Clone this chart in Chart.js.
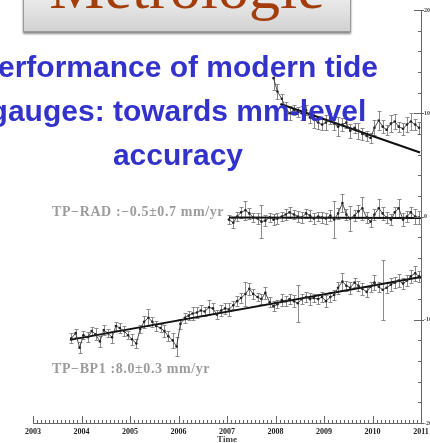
<!DOCTYPE html>
<html>
<head>
<meta charset="utf-8">
<script src="https://cdn.jsdelivr.net/npm/chart.js@4.4.1/dist/chart.umd.min.js"></script>
<style>
  html, body { margin: 0; padding: 0; background: #fff; overflow: hidden; width: 430px; height: 443px; }
  #chart { position: absolute; left: 0; top: 0; }
  .box {
    position: absolute; left: 23px; top: -12px; width: 326px; height: 42px;
    background: linear-gradient(#f2f2f2, #d2d2d2);
    border: 1px solid #9a9a9a; box-shadow: 0 2px 2px #8a8a8a;
    overflow: hidden;
  }
  .box span {
    position: absolute; left: 0; width: 100%; text-align: center; top: -33px;
    font-family: "Liberation Serif", serif; font-size: 62px; color: #a33d0c; line-height: 62px;
  }
  .title {
    position: absolute; left: -72px; width: 500px; top: 45px; text-align: center;
    font-family: "Liberation Sans", Arial, sans-serif; font-weight: bold; font-size: 30px;
    line-height: 44px; color: #3333cc; white-space: nowrap;
  }
  .lbl {
    position: absolute; left: 52px; font-family: "Liberation Serif", serif; font-weight: bold;
    font-size: 14px; letter-spacing: 0.6px; color: #9c9c9c; white-space: nowrap;
  }
</style>
</head>
<body>
<canvas id="chart" width="450" height="445"></canvas>
<div class="box"><span>Metrologie</span></div>
<div class="title">Performance of modern tide<br>gauges: towards mm-level<br>accuracy</div>
<div class="lbl" style="top:204px">TP−RAD :−0.5±0.7 mm/yr</div>
<div class="lbl" style="top:361px">TP−BP1 :8.0±0.3 mm/yr</div>
<script>
// monthly epochs (decimal years), Oct 2003 .. Dec 2010
const months = [
  2003.79, 2003.88, 2003.96,
  2004.04, 2004.13, 2004.21, 2004.29, 2004.38, 2004.46, 2004.54, 2004.63, 2004.71, 2004.79, 2004.88, 2004.96,
  2005.04, 2005.13, 2005.21, 2005.29, 2005.38, 2005.46, 2005.54, 2005.63, 2005.71, 2005.79, 2005.88, 2005.96,
  2006.04, 2006.13, 2006.21, 2006.29, 2006.38, 2006.46, 2006.54, 2006.63, 2006.71, 2006.79, 2006.88, 2006.96,
  2007.04, 2007.13, 2007.21, 2007.29, 2007.38, 2007.46, 2007.54, 2007.63, 2007.71, 2007.79, 2007.88, 2007.96,
  2008.04, 2008.13, 2008.21, 2008.29, 2008.38, 2008.46, 2008.54, 2008.63, 2008.71, 2008.79, 2008.88, 2008.96,
  2009.04, 2009.13, 2009.21, 2009.29, 2009.38, 2009.46, 2009.54, 2009.63, 2009.71, 2009.79, 2009.88, 2009.96,
  2010.04, 2010.13, 2010.21, 2010.29, 2010.38, 2010.46, 2010.54, 2010.63, 2010.71, 2010.79, 2010.88, 2010.96
];

// TP-BP1 (Oct 2003 ..)
const bp1 = [
  -11.8, -11.3, -12.7,
  -11.5, -11.7, -11.1, -11.4, -12.1, -11.0, -11.3, -11.7, -10.6, -10.8, -11.1, -11.5,
  -11.9, -12.3, -10.9, -10.2, -9.8, -10.2, -10.6, -10.8, -11.1, -11.6, -12.0, -12.6,
  -10.4, -9.8, -9.6, -9.4, -9.3, -9.1, -9.2, -8.8, -8.9, -9.5, -9.1, -8.9,
  -9.0, -8.6, -8.2, -7.9, -7.5, -7.0, -7.5, -7.8, -8.0, -7.4, -8.3, -8.7,
  -8.5, -8.1, -8.2, -8.0, -8.2, -8.4, -8.0, -7.8, -8.0, -7.9, -8.0, -7.8,
  -8.2, -7.8, -7.6, -6.9, -6.3, -6.7, -6.9, -6.4, -6.7, -7.0, -7.3, -6.8,
  -6.4, -6.8, -7.1, -6.9, -6.6, -6.4, -6.2, -6.5, -6.2, -5.8, -5.5, -5.8
];
const bp1Err = [
  0.5, 0.4, 0.5,
  0.4, 0.5, 0.4, 0.6, 0.5, 0.5, 0.4, 0.6, 0.4, 0.5, 0.5, 0.4,
  0.5, 0.4, 0.4, 0.6, 0.8, 0.5, 0.5, 0.4, 0.6, 0.5, 0.7, 0.9,
  0.5, 0.5, 0.4, 0.6, 0.5, 0.5, 0.4, 0.7, 0.5, 0.4, 0.5, 0.5,
  0.6, 0.4, 0.5, 0.5, 1.2, 0.6, 0.5, 0.4, 0.5, 0.6, 0.5, 0.5,
  0.4, 0.6, 0.5, 0.5, 0.6, 1.8, 0.5, 0.5, 0.6, 0.4, 0.5, 0.5,
  0.6, 0.5, 0.5, 0.6, 0.8, 0.5, 0.6, 0.4, 0.5, 0.6, 0.5, 0.5,
  0.7, 0.5, 2.9, 0.5, 0.6, 0.5, 0.6, 0.5, 0.5, 0.6, 0.7, 0.5
];

// TP-RAD (Jan 2007 ..)
const rad = [
  -0.3, -0.6, 0.0, 0.4, 0.6, 0.3, -0.1, -0.2, -0.5, -0.4, -0.1, -0.3,
  -0.2, 0.0, 0.2, 0.4, 0.2, 0.0, -0.1, 0.3, 0.1, -0.2, 0.0, -0.1,
  -0.2, 0.1, -0.3, 0.3, 1.3, 0.2, -0.2, 0.1, 0.5, 0.8, -0.1, -0.5,
  0.2, 0.8, 0.3, -0.1, -0.3, 0.4, 0.8, -0.3, 0.0, 0.4, 0.0, -0.1
];
const radErr = [
  0.4, 0.5, 0.4, 0.5, 0.9, 0.5, 0.4, 0.5, 1.6, 0.5, 0.4, 0.5,
  0.5, 0.4, 0.5, 0.5, 0.4, 0.5, 0.5, 0.4, 0.5, 0.5, 0.4, 0.5,
  0.5, 0.5, 1.8, 0.5, 0.9, 0.5, 1.2, 0.5, 0.6, 1.1, 0.5, 0.5,
  0.5, 0.9, 0.6, 0.5, 0.5, 0.5, 0.9, 0.6, 0.5, 0.5, 0.7, 0.6
];

// upper series (Dec 2007 ..)
const upper = [
  13.4, 12.1, 11.4, 10.5, 10.0, 10.3, 10.1, 10.0, 10.3, 9.6, 9.4, 9.1, 8.9,
  9.1, 9.5, 9.0, 8.7, 8.9, 9.1, 8.3, 8.6, 8.3, 8.0, 7.8, 7.6,
  8.6, 9.3, 8.7, 8.4, 9.0, 9.2, 8.7, 8.5, 8.9, 9.2, 8.9, 8.6
];
const upperErr = [
  1.1, 0.7, 0.5, 0.6, 0.7, 0.5, 0.5, 0.7, 0.5, 0.5, 0.8, 0.6, 0.5,
  0.7, 0.5, 0.6, 0.9, 0.6, 0.5, 0.7, 0.5, 0.8, 0.6, 0.5, 0.5,
  0.7, 0.9, 0.6, 0.5, 0.8, 0.7, 0.5, 0.6, 0.7, 0.8, 0.5, 0.6
];

// linear fits (start / end)
const bp1TrendX = [2003.76, 2011.0];
const bp1TrendY = [-11.95, -5.85];
const radTrendX = [2007.04, 2011.0];
const radTrendY = [-0.1, -0.15];
const upperTrendX = [2008.1, 2010.98];
const upperTrendY = [10.9, 6.2];

const yearTicks = ['2003', '2004', '2005', '2006', '2007', '2008', '2009', '2010', '2011'];

function pts(xs, ys) {
  return ys.map((v, i) => ({ x: xs[i], y: v }));
}

const seriesStyle = {
  borderColor: '#3a3a3a',
  borderWidth: 0.9,
  pointRadius: 1.3,
  pointBackgroundColor: '#222',
  pointBorderWidth: 0,
  tension: 0
};
const trendStyle = { borderColor: '#111', borderWidth: 2, pointRadius: 0 };

// vertical error bars with caps
const errorBars = {
  id: 'errorBars',
  beforeDatasetsDraw(chart) {
    const { ctx, scales: { x, y } } = chart;
    chart.data.datasets.forEach((ds) => {
      if (!ds.errors) return;
      ctx.save();
      ctx.strokeStyle = '#8a8a8a';
      ctx.lineWidth = 1;
      ds.data.forEach((p, i) => {
        const px = Math.round(x.getPixelForValue(p.x)) + 0.5;
        const hi = Math.round(y.getPixelForValue(p.y + ds.errors[i])) + 0.5;
        const lo = Math.round(y.getPixelForValue(p.y - ds.errors[i])) + 0.5;
        ctx.beginPath();
        ctx.moveTo(px, hi); ctx.lineTo(px, lo);
        ctx.moveTo(px - 2, hi); ctx.lineTo(px + 2, hi);
        ctx.moveTo(px - 2, lo); ctx.lineTo(px + 2, lo);
        ctx.stroke();
      });
      ctx.restore();
    });
  }
};

// inward tick marks like the original plot
const innerTicks = {
  id: 'innerTicks',
  afterDraw(chart) {
    const { ctx, chartArea, scales: { x, y } } = chart;
    ctx.save();
    ctx.strokeStyle = '#666';
    ctx.lineWidth = 1;
    ctx.beginPath();
    for (let m = 0; m <= 96; m++) {
      const px = Math.round(x.getPixelForValue(2003 + m / 12)) + 0.5;
      const len = m % 12 === 0 ? 7 : 3;
      ctx.moveTo(px, chartArea.bottom);
      ctx.lineTo(px, chartArea.bottom - len);
    }
    for (let v = -20; v <= 20; v += 2) {
      const py = Math.round(y.getPixelForValue(v)) + 0.5;
      const len = v % 10 === 0 ? 7 : 3;
      ctx.moveTo(chartArea.right, py);
      ctx.lineTo(chartArea.right - len, py);
      if (v % 10 === 0) { ctx.moveTo(chartArea.right, py); ctx.lineTo(chartArea.right + 3, py); }
    }
    ctx.stroke();
    ctx.restore();
  }
};

new Chart(document.getElementById('chart'), {
  type: 'line',
  data: {
    datasets: [
      { ...seriesStyle, data: pts(months.slice(50), upper), errors: upperErr },
      { ...trendStyle, data: pts(upperTrendX, upperTrendY) },
      { ...seriesStyle, data: pts(months.slice(39), rad), errors: radErr },
      { ...trendStyle, data: pts(radTrendX, radTrendY) },
      { ...seriesStyle, data: pts(months, bp1), errors: bp1Err },
      { ...trendStyle, data: pts(bp1TrendX, bp1TrendY) }
    ]
  },
  options: {
    responsive: false,
    animation: false,
    layout: { padding: { left: 33, top: 10, right: 0, bottom: 0 } },
    plugins: { legend: { display: false }, tooltip: { enabled: false } },
    scales: {
      x: {
        type: 'linear', min: 2003, max: 2011,
        afterFit(scale) { scale.height = 22; },
        grid: { display: false, drawTicks: false },
        border: { display: true, color: '#666', width: 1 },
        ticks: {
          stepSize: 1, padding: 4, color: '#222',
          font: { family: 'Liberation Serif', size: 8, weight: 'bold' },
          callback: (v) => yearTicks[Math.round(v - 2003)] || ''
        },
        title: {
          display: true, text: 'Time', color: '#444', padding: 0,
          font: { family: 'Liberation Serif', size: 9, weight: 'bold' }
        }
      },
      y: {
        position: 'right', min: -20, max: 20,
        afterFit(scale) { scale.width = 29; },
        grid: { display: false, drawTicks: false },
        border: { display: true, color: '#666', width: 1 },
        ticks: {
          stepSize: 10, padding: 3, color: '#444',
          font: { family: 'Liberation Serif', size: 6, weight: 'bold' }
        }
      }
    }
  },
  plugins: [errorBars, innerTicks]
});
</script>
</body>
</html>
